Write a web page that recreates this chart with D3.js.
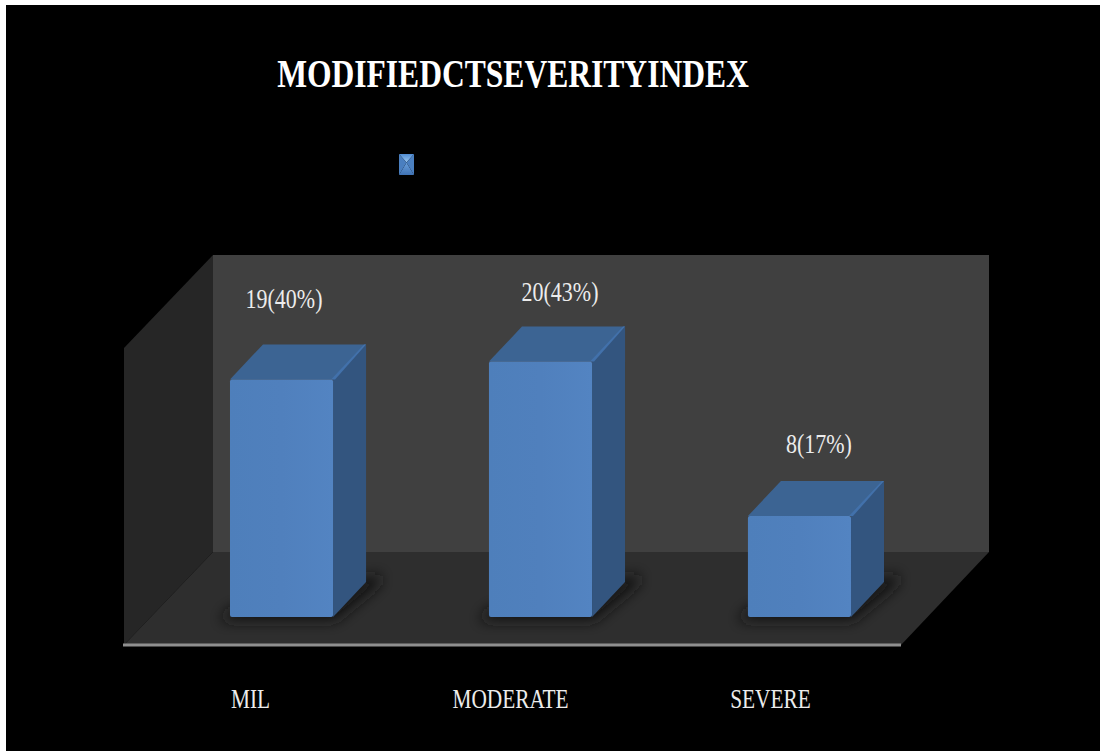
<!DOCTYPE html>
<html><head><meta charset="utf-8">
<script src="https://cdnjs.cloudflare.com/ajax/libs/d3/7.8.5/d3.min.js"></script>
<style>html,body{margin:0;padding:0;background:#fff}svg{display:block}text{font-family:"Liberation Serif",serif}</style>
</head><body><div id="c"></div>
<script>
const title = "MODIFIEDCTSEVERITYINDEX";
const categories = ["MIL","MODERATE","SEVERE"];
const percents = [40,43,17];
const labels = ["19(40%)","20(43%)","8(17%)"];
const ticks = [0,50];

const W=1100,H=751;
const svg=d3.select("#c").append("svg").attr("width",W).attr("height",H);
const defs=svg.append("defs");
const blur=defs.append("filter").attr("id","blur").attr("x","-30%").attr("y","-30%").attr("width","160%").attr("height","160%");
blur.append("feGaussianBlur").attr("stdDeviation",7);
const grad=(id,stops,vertical)=>{
  const g=defs.append("linearGradient").attr("id",id);
  if(vertical) g.attr("x1",0).attr("x2",0).attr("y1",0).attr("y2",1);
  stops.forEach(d=>g.append("stop").attr("offset",d[0]).attr("stop-color",d[1]));
};
grad("front",[[0,"#4e7fbb"],[.5,"#5080bd"],[1,"#5384c2"]]);
grad("gt",[[0,"#4f8bd2"],[1,"#9cc8f0"]],true);
grad("gb",[[0,"#6aa0dc"],[1,"#3f72b4"]],true);

svg.append("rect").attr("x",6).attr("y",5).attr("width",W-6).attr("height",H-5).attr("fill","#000");

// scales
const plotL=124, plotR=901, floorY=645, dxW=89, dyW=93;
const barBase=617, depthX=33, depthY=35;
const x=d3.scaleBand().domain(categories).range([152.3,928.7]).paddingInner(0.602).paddingOuter(0.3);
const y=d3.scaleLinear().domain(d3.extent(ticks)).range([barBase,barBase-297]);
const wallTop=floorY-297;
const poly=(pts,fill)=>svg.append("polygon").attr("points",pts.map(p=>p.join(",")).join(" ")).attr("fill",fill);

poly([[plotL+dxW,floorY-dyW],[plotR+dxW-1,floorY-dyW],[plotR+dxW-1,wallTop-dyW],[plotL+dxW,wallTop-dyW]],"#404040");
poly([[plotL,floorY],[plotL+dxW,floorY-dyW],[plotL+dxW,wallTop-dyW],[plotL,wallTop]],"#262626");
poly([[plotL,floorY],[plotL+dxW,floorY-dyW],[plotR+dxW-1,floorY-dyW],[plotR,floorY]],"#2e2e2e");
svg.append("line").attr("x1",plotL-1).attr("x2",plotR).attr("y1",floorY).attr("y2",floorY).attr("stroke","#8f8f8f").attr("stroke-width",3);

// bars
const bars=svg.selectAll("g.bar").data(categories.map((c,i)=>({c,p:percents[i],l:labels[i]}))).enter().append("g").attr("class","bar");
bars.append("polygon").attr("filter","url(#blur)").attr("fill","#141414").attr("points",d=>{
  const a=x(d.c),b=a+x.bandwidth();
  return [[a-10,barBase+4],[b+2,barBase+4],[b+depthX+14,barBase-depthY+2],[b+depthX+14,barBase-depthY-8],[a,barBase-8]].map(p=>p.join(",")).join(" ");
});
bars.append("polygon").attr("fill","#33557f").attr("points",d=>{
  const b=x(d.c)+x.bandwidth(),t=y(d.p);
  return [[b,t],[b+depthX,t-depthY],[b+depthX,barBase-depthY],[b,barBase]].map(p=>p.join(",")).join(" ");
});
bars.append("polygon").attr("fill","#3c6493").attr("points",d=>{
  const a=x(d.c),b=a+x.bandwidth(),t=y(d.p);
  return [[a,t],[a+depthX,t-depthY],[b+depthX,t-depthY],[b,t]].map(p=>p.join(",")).join(" ");
});
bars.append("polygon").attr("fill","#4271ab").attr("points",d=>{
  const b=x(d.c)+x.bandwidth(),t=y(d.p);
  return [[b-2,t],[b+depthX-2,t-depthY],[b+depthX,t-depthY],[b+2,t]].map(p=>p.join(",")).join(" ");
});
bars.append("rect").attr("x",d=>x(d.c)).attr("y",d=>y(d.p)).attr("width",x.bandwidth()).attr("height",d=>barBase-y(d.p)).attr("rx",2).attr("fill","url(#front)");

// value labels
const labelLift={MIL:71,MODERATE:61,SEVERE:63};
const labelShift={MIL:2.5,MODERATE:19.5,SEVERE:19.5};
bars.append("text")
  .attr("transform",d=>`translate(${x(d.c)+x.bandwidth()/2+labelShift[d.c]},${y(d.p)-labelLift[d.c]}) scale(.83,1)`)
  .attr("text-anchor","middle").attr("font-size",26.5).attr("fill","#ececec").text(d=>d.l);

// category axis
const axisX=d3.scalePoint().domain(categories).range([250,770]);
const ax=svg.append("g").attr("transform","translate(0,708)").call(d3.axisBottom(axisX).tickSize(0).tickPadding(0));
ax.select(".domain").remove();
ax.selectAll("text").attr("dy",0).attr("y",0).attr("font-size",27).attr("transform","scale(.79,1)").attr("fill","#ececec").style("font-family",'"Liberation Serif",serif');

// title
svg.append("text").attr("transform","translate(513,87) scale(.77,1)").attr("text-anchor","middle").attr("font-size",41).attr("font-weight","bold").attr("fill","#fff").text(title);

// legend marker
const L=399,R=414,T=154,B=175,mx=(L+R)/2,my=(T+B)/2-2;
poly([[L,T],[R,T],[mx,my]],"url(#gt)");
poly([[L,B],[R,B],[mx,my]],"url(#gb)");
poly([[L,T],[mx,my],[L,B]],"#4a7fc0");
poly([[R,T],[mx,my],[R,B]],"#4a7fc0");
</script></body></html>
